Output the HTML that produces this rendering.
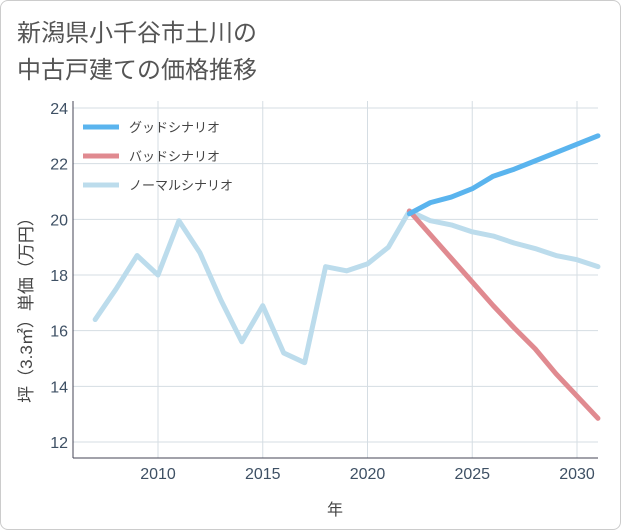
<!DOCTYPE html>
<html><head><meta charset="utf-8"><style>
body{margin:0;background:#fff;font-family:"Liberation Sans","Noto Sans CJK JP",sans-serif;}
#wrap{position:relative;width:619px;height:528px;border:1px solid #ccc;border-radius:8px;overflow:hidden;background:#fff}
</style></head><body>
<div id="wrap">
<svg id="c" width="621" height="530">
<text x="16" y="40" font-size="24" fill="#555" font-family="Liberation Sans,Noto Sans CJK JP,sans-serif">新潟県小千谷市土川の</text>
<text x="16" y="77" font-size="24" fill="#555" font-family="Liberation Sans,Noto Sans CJK JP,sans-serif">中古戸建ての価格推移</text>
<g id="grid"></g><g id="axes"></g><g id="series"></g><g id="legend"></g>
<text x="334" y="514" font-size="16" fill="#444" text-anchor="middle" font-family="Liberation Sans,Noto Sans CJK JP,sans-serif">年</text>
<text transform="translate(31,305) rotate(-90)" font-size="17" fill="#444" text-anchor="middle" font-family="Liberation Sans,Noto Sans CJK JP,sans-serif">坪（3.3㎡）単価（万円）</text>
</svg></div>
<script>
const normalYears=[2007,2008,2009,2010,2011,2012,2013,2014,2015,2016,2017,2018,2019,2020,2021,2022,2023,2024,2025,2026,2027,2028,2029,2030,2031];
const normalValues=[16.4,17.5,18.7,18.0,19.95,18.8,17.1,15.6,16.9,15.2,14.85,18.3,18.15,18.4,19.0,20.3,19.95,19.8,19.55,19.4,19.15,18.95,18.7,18.55,18.3];
const goodYears=[2022,2023,2024,2025,2026,2027,2028,2029,2030,2031];
const goodValues=[20.2,20.6,20.8,21.1,21.55,21.8,22.1,22.4,22.7,23.0];
const badYears=[2022,2023,2024,2025,2026,2027,2028,2029,2030,2031];
const badValues=[20.3,19.45,18.6,17.75,16.9,16.1,15.35,14.45,13.65,12.85];
const xTicks=[2010,2015,2020,2025,2030];
const yTicks=[12,14,16,18,20,22,24];
const NS="http://www.w3.org/2000/svg";
const L=72,R=597,T=100,B=457;
const X=y=>157+(y-2010)*(576-157)/20;
const Y=v=>441-(v-12)*(441-107)/12;
function mk(tag,attrs,parent){const e=document.createElementNS(NS,tag);for(const k in attrs)e.setAttribute(k,attrs[k]);document.getElementById(parent).appendChild(e);return e;}
xTicks.forEach(t=>{
 const l=mk('line',{x1:X(t),x2:X(t),y1:T,y2:B,stroke:'#d5dde3'},'grid');
 
 
 const tx=mk('text',{x:X(t),y:B+21,'font-size':16,fill:'#3e5064','text-anchor':'middle'},'axes');tx.textContent=t;
 
 
});
yTicks.forEach(t=>{
 const l=mk('line',{x1:L,x2:R,y1:Y(t),y2:Y(t),stroke:'#d5dde3'},'grid');
 
 
 const tx=mk('text',{x:L-5,y:Y(t)+6,'font-size':16,fill:'#3e5064','text-anchor':'end'},'axes');tx.textContent=t;
 
 
});
let a=mk('line',{x1:L,x2:L,y1:T,y2:B,stroke:'#445'},'axes');


a=mk('line',{x1:L,x2:R,y1:B,y2:B,stroke:'#445'},'axes');


function line(xs,vs,col,name){
 const p=mk('polyline',{points:xs.map((x,i)=>X(x)+','+Y(vs[i])).join(' '),fill:'none',stroke:col,'stroke-width':5,'stroke-linejoin':'round','stroke-linecap':'round'},'series');
 
 
}
line(normalYears,normalValues,'#bcdcec','normal-scenario-line');
line(badYears,badValues,'#e08a90','bad-scenario-line');
line(goodYears,goodValues,'#5ab4ee','good-scenario-line');
[['グッドシナリオ','#5ab4ee'],['バッドシナリオ','#e08a90'],['ノーマルシナリオ','#bcdcec']].forEach((d,i)=>{
 const y=126+i*29;
 const l=mk('line',{x1:82,x2:118,y1:y,y2:y,stroke:d[1],'stroke-width':5},'legend');
 
 
 const t=mk('text',{x:128,y:y+5,'font-size':13,fill:'#444'},'legend');t.textContent=d[0];
 
 
});
</script></body></html>
